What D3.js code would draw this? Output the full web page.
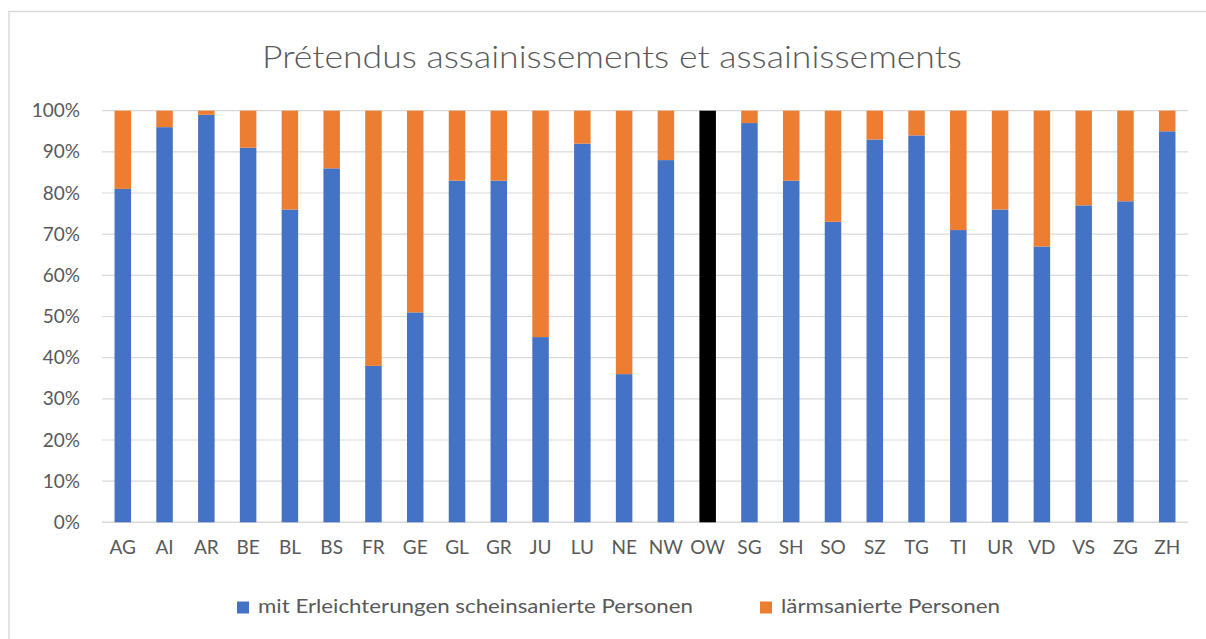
<!DOCTYPE html>
<meta charset="utf-8">
<head>
  <title>Prétendus assainissements et assainissements</title>
</head>
<style>
    body {
        margin: 0;
        background-color: #ffffff;
    }
    svg text {
        font-family: Lato, "Open Sans", sans-serif;
        fill: #595959;
    }
    .grid line {
        stroke: #d9d9d9;
        stroke-width: 1px;
    }
</style>
<body>
    <svg id="chart" width="1206" height="639"></svg>

    <script src="https://cdn.jsdelivr.net/npm/d3@7"></script>
    <script>
        var cantons = ["AG","AI","AR","BE","BL","BS","FR","GE","GL","GR","JU","LU","NE","NW","OW","SG","SH","SO","SZ","TG","TI","UR","VD","VS","ZG","ZH"];
        var scheinsaniert = [81,96,99,91,76,86,38,51,83,83,45,92,36,88,100,97,83,73,93,94,71,76,67,77,78,95];
        var laermsaniert  = [19,4,1,9,24,14,62,49,17,17,55,8,64,12,0,3,17,27,7,6,29,24,33,23,22,5];
        var yTicks = [0,10,20,30,40,50,60,70,80,90,100];
        var seriesNames = ["mit Erleichterungen scheinsanierte Personen", "lärmsanierte Personen"];
        var seriesColors = ["#4472C4", "#ED7D31"];
        var highlight = "OW";   // drawn black in the original

        var width = 1206,
            height = 639,
            margin = {top: 110.7, right: 18, bottom: 116.7, left: 102};

        var svg = d3.select("#chart");

        // outer chart frame (runs off the right/bottom edge)
        svg.append("rect")
            .attr("x", 9)
            .attr("y", 11.5)
            .attr("width", 1210)
            .attr("height", 640)
            .attr("fill", "none")
            .attr("stroke", "#d9d9d9")
            .attr("stroke-width", 1.5);

        var x = d3.scaleBand()
            .domain(cantons)
            .range([margin.left, width - margin.right])
            .paddingInner(0.605)
            .paddingOuter(0.3);

        var y = d3.scaleLinear()
            .domain([0, 100])
            .range([height - margin.bottom, margin.top]);

        // gridlines
        svg.append("g")
            .attr("class", "grid")
            .selectAll("line")
            .data(yTicks)
            .enter()
            .append("line")
            .attr("x1", margin.left)
            .attr("x2", width - margin.right)
            .attr("y1", function(d) { return y(d); })
            .attr("y2", function(d) { return y(d); })
            .style("stroke-width", function(d) { return d === 0 ? "1.5px" : "1.2px"; });

        // y axis labels
        var yAxis = d3.axisLeft(y)
            .tickValues(yTicks)
            .tickSize(0)
            .tickPadding(0)
            .tickFormat(function(d) { return d + "%"; });

        svg.append("g")
            .attr("transform", "translate(" + (margin.left - 22) + ",0)")
            .call(yAxis)
            .call(function(g) { g.select(".domain").remove(); })
            .selectAll("text")
            .attr("font-size", 19)
            .style("font-family", "Lato, sans-serif")
            .attr("fill", "#595959");

        // stacked data
        var rows = cantons.map(function(c, i) {
            return {canton: c, s0: scheinsaniert[i], s1: laermsaniert[i]};
        });
        var stack = d3.stack().keys(["s0", "s1"]);
        var layers = stack(rows);

        svg.append("g")
            .selectAll("g")
            .data(layers)
            .enter()
            .append("g")
            .attr("fill", function(d, i) { return seriesColors[i]; })
            .selectAll("rect")
            .data(function(d) { return d; })
            .enter()
            .append("rect")
            .attr("x", function(d) { return x(d.data.canton); })
            .attr("width", x.bandwidth())
            .attr("y", function(d) { return y(d[1]); })
            .attr("height", function(d) { return y(d[0]) - y(d[1]); })
            .attr("fill", function(d) { return d.data.canton === highlight ? "#000000" : null; });

        // x axis labels
        var xAxis = d3.axisBottom(x)
            .tickSize(0)
            .tickPadding(0);

        svg.append("g")
            .attr("transform", "translate(0," + (height - margin.bottom + 25) + ")")
            .call(xAxis)
            .call(function(g) { g.select(".domain").remove(); })
            .selectAll("text")
            .attr("font-size", 19)
            .attr("dy", "0.35em")
            .style("font-family", "Lato, sans-serif")
            .attr("fill", "#595959");

        // title
        svg.append("text")
            .attr("x", 612)
            .attr("y", 68)
            .attr("text-anchor", "middle")
            .attr("font-size", 31)
            .attr("font-weight", 300)
            .attr("textLength", 700)
            .attr("lengthAdjust", "spacingAndGlyphs")
            .text("Prétendus assainissements et assainissements");

        // legend
        var legendX = [237, 760];
        var legendW = [435, 219];
        var legend = svg.append("g")
            .selectAll("g")
            .data(seriesNames)
            .enter()
            .append("g")
            .attr("transform", function(d, i) { return "translate(" + legendX[i] + ",601.5)"; });

        legend.append("rect")
            .attr("width", 12)
            .attr("height", 12)
            .attr("fill", function(d, i) { return seriesColors[i]; });

        legend.append("text")
            .attr("x", 21)
            .attr("y", 11.5)
            .attr("font-size", 19)
            .attr("textLength", function(d, i) { return legendW[i]; })
            .attr("lengthAdjust", "spacingAndGlyphs")
            .text(function(d) { return d; });
    </script>
</body>
